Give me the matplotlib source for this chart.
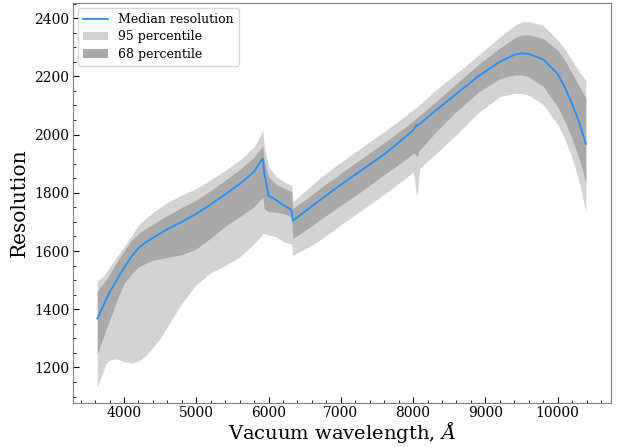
import matplotlib
matplotlib.use("Agg")
import matplotlib.pyplot as plt
from matplotlib.ticker import MultipleLocator

plt.rcParams['font.family'] = ['DejaVu Serif']
plt.rcParams['mathtext.fontset'] = 'dejavuserif'

wavelength = [3630, 3700, 3750, 3800, 3900, 4000, 4100, 4200, 4300, 4400, 4500, 4600,
              4800, 5000, 5200, 5400, 5600, 5800, 5900, 5920, 5940, 6000, 6100, 6200,
              6300, 6320, 6335, 6500, 6700, 7000, 7300, 7600, 7900, 8000, 8025, 8040,
              8050, 8060, 8075, 8095, 8300, 8600, 8900, 9200, 9400, 9500, 9600, 9800,
              10000, 10100, 10200, 10300, 10390]

median = [1368, 1405, 1432, 1458, 1500, 1542, 1580, 1610, 1630, 1645, 1660, 1675,
          1700, 1728, 1760, 1795, 1830, 1872, 1912, 1918, 1870, 1790, 1776, 1758,
          1745, 1735, 1704, 1735, 1773, 1828, 1880, 1932, 1993, 2015, 2022, 2030,
          2035, 2030, 2033, 2037, 2080, 2140, 2200, 2250, 2274, 2279, 2277, 2258,
          2208, 2162, 2105, 2040, 1968]

p95_hi = [1499, 1510, 1525, 1545, 1580, 1615, 1650, 1690, 1712, 1732, 1750, 1767,
          1792, 1815, 1845, 1877, 1912, 1958, 2003, 2018, 1960, 1890, 1857, 1840,
          1828, 1826, 1769, 1805, 1849, 1905, 1958, 2010, 2065, 2085, 2090, 2093,
          2095, 2097, 2100, 2104, 2150, 2210, 2272, 2335, 2374, 2387, 2388, 2375,
          2325, 2293, 2255, 2215, 2186]

p95_lo = [1132, 1180, 1212, 1225, 1230, 1220, 1215, 1222, 1240, 1268, 1300, 1340,
          1420, 1485, 1525, 1550, 1580, 1625, 1652, 1660, 1660, 1655, 1650, 1632,
          1625, 1625, 1585, 1607, 1636, 1690, 1742, 1795, 1850, 1872, 1840, 1790,
          1805, 1786, 1840, 1885, 1930, 2000, 2075, 2130, 2142, 2141, 2135, 2103,
          2035, 1985, 1920, 1835, 1734]

p68_hi = [1462, 1485, 1500, 1520, 1563, 1600, 1635, 1660, 1678, 1692, 1707, 1722,
          1750, 1775, 1808, 1843, 1880, 1922, 1955, 1962, 1912, 1855, 1830, 1817,
          1806, 1803, 1746, 1775, 1813, 1867, 1920, 1972, 2027, 2046, 2052, 2056,
          2058, 2060, 2063, 2067, 2110, 2175, 2240, 2297, 2332, 2342, 2343, 2330,
          2290, 2255, 2210, 2165, 2126]

p68_lo = [1246, 1295, 1330, 1362, 1430, 1488, 1520, 1545, 1558, 1568, 1573, 1578,
          1588, 1607, 1645, 1685, 1718, 1752, 1780, 1785, 1745, 1735, 1733, 1729,
          1720, 1717, 1643, 1670, 1705, 1757, 1808, 1862, 1915, 1935, 1935, 1925,
          1930, 1922, 1940, 1948, 2005, 2080, 2145, 2192, 2205, 2205, 2198, 2165,
          2095, 2045, 1985, 1915, 1836]

fig = plt.figure(figsize=(6.2, 4.47), dpi=100)
ax = fig.add_axes([0.1177, 0.0984, 0.868, 0.895])

ax.fill_between(wavelength, p95_lo, p95_hi, color='#d3d3d3', linewidth=0,
                label='95 percentile')
ax.fill_between(wavelength, p68_lo, p68_hi, color='#a9a9a9', linewidth=0,
                label='68 percentile')
ax.plot(wavelength, median, color='#1e90ff', linewidth=1.3, label='Median resolution')

ax.set_xlim(3294, 10740)
ax.set_ylim(1078, 2452)
ax.xaxis.set_major_locator(MultipleLocator(1000))
ax.xaxis.set_minor_locator(MultipleLocator(200))
ax.yaxis.set_major_locator(MultipleLocator(200))
ax.yaxis.set_minor_locator(MultipleLocator(50))
ax.tick_params(which='both', direction='in', top=False, right=False, labelsize=10)
ax.tick_params(which='major', length=4, pad=2.5)
ax.tick_params(which='minor', length=2)
for s in ax.spines.values():
    s.set_color('#808080')

ax.set_xlabel(r'Vacuum wavelength, $\AA$', fontsize=14, labelpad=0)
ax.set_ylabel('Resolution', fontsize=14.5, labelpad=4)

h, l = ax.get_legend_handles_labels()
order = [2, 0, 1]
ax.legend([h[i] for i in order], [l[i] for i in order], loc='upper left',
          fontsize=9, handlelength=2.0, labelspacing=0.35, borderaxespad=0.4)

fig.savefig('out.png', dpi=100)
